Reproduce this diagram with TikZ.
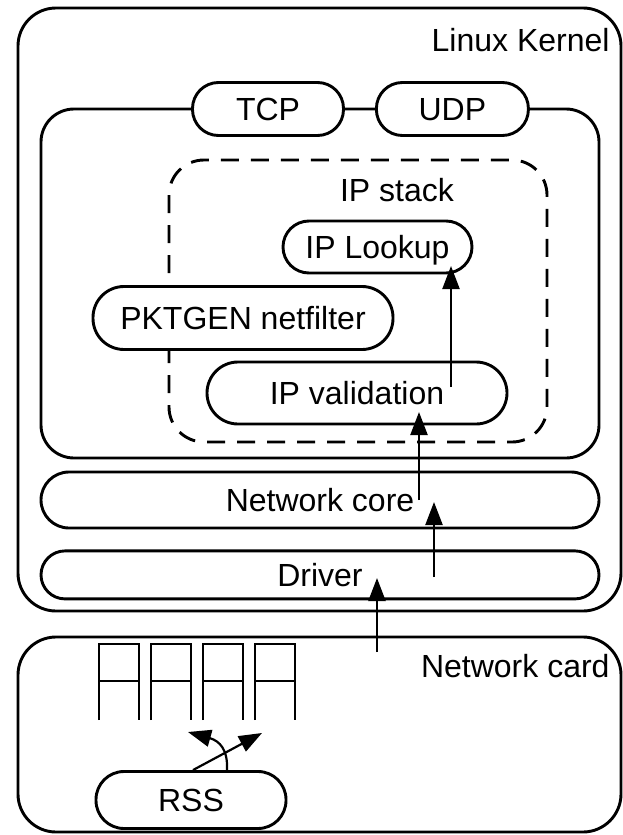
\documentclass[tikz,border=0pt]{standalone}
\usepackage{fontspec}
\setmainfont{Liberation Sans}
\usetikzlibrary{arrows.meta,positioning}

\tikzset{
  blk/.style={draw, fill=white, inner sep=0pt, text height=23pt, text depth=0pt},
  flow/.style={line width=2.2pt, -{Triangle[length=23pt,width=17pt]}},
}

\begin{document}
\begin{tikzpicture}[x=1pt, y=-1pt, line width=2.9pt, font=\fontsize{32}{38}\selectfont]
  \useasboundingbox (0,0) rectangle (623,835);

  \draw[rounded corners=38pt] (18,8) rectangle (621,611);
  \draw[rounded corners=38pt] (18,637) rectangle (621,832);
  \node[anchor=base east, inner sep=0pt] (kernel) at (611,51) {Linux Kernel};
  \node[anchor=base east, inner sep=0pt] (card) at (611,677) {Network card};

  \draw[rounded corners=33pt] (41,109) rectangle (599,458);
  \draw[dash pattern=on 18pt off 12pt, rounded corners=35pt] (169,160) rectangle (547,442);
  \node[anchor=base, inner sep=0pt] (stack) at (397,201) {IP stack};

  \node[blk, minimum width=151pt, minimum height=53pt, rounded corners=26pt] (tcp) at (268,109) {TCP};
  \node[blk, minimum width=152pt, minimum height=53pt, rounded corners=26pt, right=30pt of tcp] (udp) {UDP};
  \node[blk, minimum width=189pt, minimum height=52pt, rounded corners=26pt] (lookup) at (377.5,247) {IP Lookup};
  \node[blk, minimum width=300pt, minimum height=63pt, rounded corners=31pt] (pktgen) at (243,318) {PKTGEN netfilter};
  \node[blk, minimum width=300pt, minimum height=62pt, rounded corners=31pt] (valid) at (357,393) {IP validation};
  \node[blk, minimum width=558pt, minimum height=56pt, rounded corners=28pt] (core) at (320,500) {Network core};
  \node[blk, minimum width=558pt, minimum height=48pt, rounded corners=24pt, below=20pt of core] (driver) {Driver};
  \node[blk, minimum width=190pt, minimum height=57pt, rounded corners=28pt] (rss) at (191,800) {RSS};

  \foreach \i in {0,...,3} {
    \draw ({99+52*\i},720) |- ({139+52*\i},644) -- ({139+52*\i},720);
    \draw ({99+52*\i},681) -- ({139+52*\i},681);
  }

  \coordinate (in1) at (377,652);
  \coordinate (in1t) at (377,578);
  \coordinate (in2) at (434,577);
  \coordinate (in2t) at (434,502);
  \coordinate (in3) at (419,500);
  \coordinate (in3t) at (419,412);
  \coordinate (in4) at (451,387);
  \coordinate (in4t) at (451,266);
  \coordinate (q2) at (188,732);
  \coordinate (q3) at (262,733);

  \draw[flow] (in1) -- (in1t);
  \draw[flow] (in2) -- (in2t);
  \draw[flow] (in3) -- (in3t);
  \draw[flow] (in4) -- (in4t);
  \draw[flow] ([xshift=2pt]rss.north) -- (q3);
  \draw[flow] ([xshift=36pt]rss.north) .. controls (228,750) and (220,741) .. (q2);
\end{tikzpicture}
\end{document}
